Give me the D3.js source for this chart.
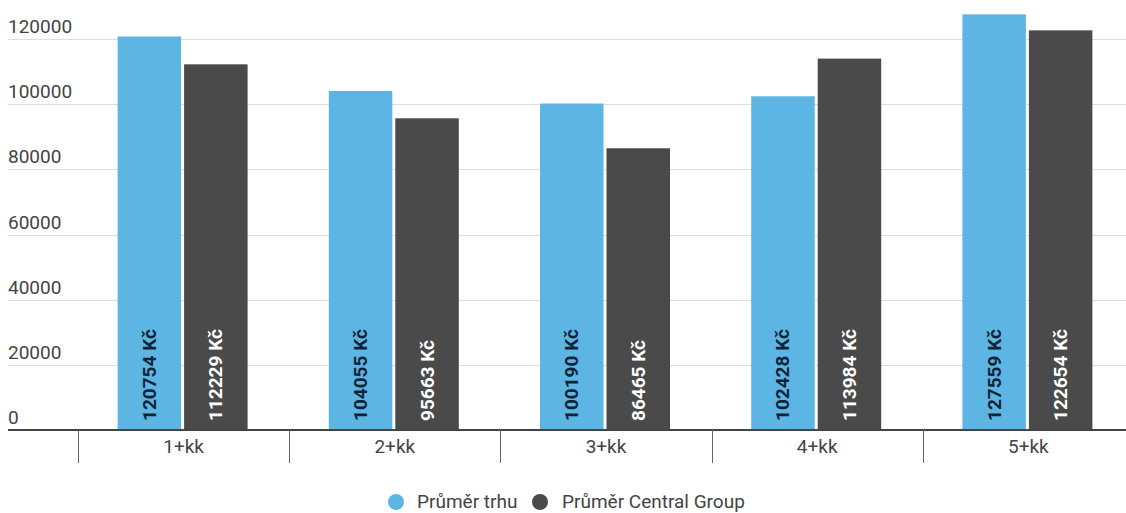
<!DOCTYPE html>
<html>
<head>
<meta charset="utf-8">
<script src="https://cdn.jsdelivr.net/npm/d3@7"></script>
<style>
  body { margin: 0; background: #fff; }
  svg { display: block; font-family: Roboto, "Noto Sans", sans-serif; }
</style>
</head>
<body>
<svg id="chart" width="1126" height="513"></svg>
<script>
var categories = ["1+kk", "2+kk", "3+kk", "4+kk", "5+kk"];
var seriesNames = ["Průměr trhu", "Průměr Central Group"];
var trh = [120754, 104055, 100190, 102428, 127559];
var cg = [112229, 95663, 86465, 113984, 122654];
var yTicks = [0, 20000, 40000, 60000, 80000, 100000, 120000];
var colors = ["#5db5e3", "#4a4a4a"];
var labelColors = ["#102438", "#ffffff"];

var svg = d3.select("#chart");

var x0 = d3.scaleBand().domain(categories).range([78, 1134]);
var x1 = d3.scaleBand().domain([0, 1]).range([-66, 64]).paddingInner(0.045);
var y = d3.scaleLinear().domain([0, 120000]).range([430, 39]);

// gridlines + y labels
var grid = svg.append("g");
grid.selectAll("line")
    .data(yTicks.filter(function(d) { return d > 0; }))
    .enter()
    .append("line")
    .attr("x1", 8).attr("x2", 1126)
    .attr("y1", function(d) { return Math.round(y(d)) + 0.5; })
    .attr("y2", function(d) { return Math.round(y(d)) + 0.5; })
    .style("stroke", "#dedede")
    .style("stroke-width", "1px");

grid.selectAll("text")
    .data(yTicks)
    .enter()
    .append("text")
    .attr("x", 8)
    .attr("y", function(d) { return y(d) - 6; })
    .text(function(d) { return d; })
    .style("font-size", "19px")
    .style("fill", "#444");

// bars
var rows = categories.map(function(c, i) { return [trh[i], cg[i]]; });
var groups = svg.selectAll("g.cat")
    .data(rows)
    .enter()
    .append("g")
    .attr("class", "cat")
    .attr("transform", function(d, i) {
        return "translate(" + (x0(categories[i]) + x0.bandwidth() / 2) + ",0)";
    });

groups.selectAll("rect")
    .data(function(d) { return d; })
    .enter()
    .append("rect")
    .attr("x", function(d, j) { return x1(j); })
    .attr("width", x1.bandwidth())
    .attr("y", function(d) { return y(d); })
    .attr("height", function(d) { return y(0) - y(d); })
    .attr("fill", function(d, j) { return colors[j]; });

groups.selectAll("text")
    .data(function(d) { return d; })
    .enter()
    .append("text")
    .attr("transform", function(d, j) {
        return "translate(" + (x1(j) + x1.bandwidth() / 2 + 6.5) + "," + (y(0) - 9) + ") rotate(-90)";
    })
    .text(function(d) { return d + " Kč"; })
    .style("font-size", "19px")
    .style("font-weight", "bold")
    .style("fill", function(d, j) { return labelColors[j]; });

// x axis
svg.append("line")
    .attr("x1", 8).attr("x2", 1126)
    .attr("y1", 430).attr("y2", 430)
    .style("stroke", "#444")
    .style("stroke-width", "2px");

svg.selectAll("line.tick")
    .data(categories)
    .enter()
    .append("line")
    .attr("class", "tick")
    .attr("x1", function(d) { return Math.round(x0(d)) + 0.5; })
    .attr("x2", function(d) { return Math.round(x0(d)) + 0.5; })
    .attr("y1", 430).attr("y2", 463)
    .style("stroke", "#666")
    .style("stroke-width", "1px");

svg.selectAll("text.cat")
    .data(categories)
    .enter()
    .append("text")
    .attr("class", "cat")
    .attr("x", function(d) { return x0(d) + x0.bandwidth() / 2; })
    .attr("y", 453)
    .attr("text-anchor", "middle")
    .text(function(d) { return d; })
    .style("font-size", "19px")
    .style("fill", "#444");

// legend
var legendX = [396, 540];
var legendTextX = [417, 562];
var legend = svg.selectAll("g.legend")
    .data(seriesNames)
    .enter()
    .append("g")
    .attr("class", "legend");

legend.append("circle")
    .attr("cx", function(d, i) { return legendX[i]; })
    .attr("cy", 502)
    .attr("r", 8)
    .attr("fill", function(d, i) { return colors[i]; });

legend.append("text")
    .attr("x", function(d, i) { return legendTextX[i]; })
    .attr("y", 508)
    .text(function(d) { return d; })
    .style("font-size", "19px")
    .style("fill", "#444");
</script>
</body>
</html>
